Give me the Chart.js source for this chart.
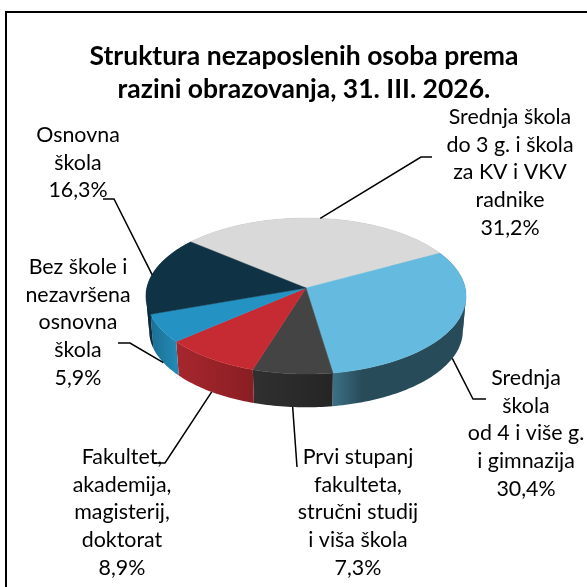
<!DOCTYPE html>
<html>
<head>
<meta charset="utf-8">
<style>
  html, body { margin: 0; padding: 0; background: #fff; overflow: hidden; }
  #chart { display: block; }
</style>
<script src="https://cdn.jsdelivr.net/npm/chart.js@4"></script>
</head>
<body>
<canvas id="chart" width="587" height="587"></canvas>
<script>
const titleLines = ['Struktura nezaposlenih osoba prema', 'razini obrazovanja, 31. III. 2026.'];

const categories = [
  ['Srednja škola', 'do 3 g. i škola', 'za KV i VKV', 'radnike'],
  ['Srednja', 'škola', 'od 4 i više g.', 'i gimnazija'],
  ['Prvi stupanj', 'fakulteta,', 'stručni studij', 'i viša škola'],
  ['Fakultet,', 'akademija,', 'magisterij,', 'doktorat'],
  ['Bez škole i', 'nezavršena', 'osnovna', 'škola'],
  ['Osnovna', 'škola'],
];
const shares = [31.2, 30.4, 7.3, 8.9, 5.9, 16.3];

const topColors = ['#d9d9d9', '#65bbdf', '#444444', '#c62b33', '#2492c2', '#0f3345'];
const wallColors = [
  ['#a0a0a0', '#a0a0a0'],
  ['#3c7086', '#284b5a'],
  ['#303030', '#252525'],
  ['#a6272d', '#8a1e23'],
  ['#1b6f95', '#2389b4'],
  ['#0a2230', '#0d2c3c'],
];

// label text centre + first line y, then the elbow points of its leader
const labelSpots = [
  { x: 510, y: 117, bend: [[421, 157], [432, 157]] },
  { x: 526, y: 378, bend: [[473, 399], [486, 399]] },
  { x: 358, y: 457, bend: [[297, 467]] },
  { x: 122, y: 457, bend: [[165, 463], [154, 463]] },
  { x: 78, y: 267, bend: [[130, 343], [118, 343]] },
  { x: 78, y: 135, bend: [[114, 199], [103, 199]] },
];

// the pie is seen in perspective, so the circle goes through a small homography
const pie = { cx: 306, cy: 288, a: 159.2, b: 77.2, k: 0.1026, depth: 35, shrink: 0.98 };

function rimPoint(angle, bottom) {
  const X = Math.cos(angle), Y = Math.sin(angle);
  const w = 1 - pie.k * Y;
  const s = bottom ? pie.shrink : 1;
  return [pie.cx + s * pie.a * X / w, pie.cy + (bottom ? pie.depth : 0) + s * pie.b * Y / w];
}

function rimAngles(arc) {
  const list = [];
  const steps = Math.max(2, Math.ceil((arc.endAngle - arc.startAngle) / 0.02));
  for (let i = 0; i <= steps; i++) {
    list.push(arc.startAngle + (arc.endAngle - arc.startAngle) * i / steps);
  }
  return list;
}

// cut the rim where it turns back in x, so each wall part is a simple polygon
function splitAtTurns(angles) {
  const parts = [[angles[0]]];
  let dir = 0;
  for (let n = 1; n < angles.length; n++) {
    const d = Math.sign(rimPoint(angles[n], false)[0] - rimPoint(angles[n - 1], false)[0]);
    if (dir && d && d !== dir) parts.push([angles[n - 1]]);
    if (d) dir = d;
    parts[parts.length - 1].push(angles[n]);
  }
  return parts;
}

const pie3d = {
  id: 'pie3d',
  beforeDraw(chart) {
    const ctx = chart.ctx;
    ctx.save();
    ctx.fillStyle = '#fff';
    ctx.fillRect(0, 0, chart.width, chart.height);
    ctx.strokeStyle = '#000';
    ctx.lineWidth = 2;
    ctx.strokeRect(6, 12, 700, 700);
    ctx.restore();
  },
  beforeDatasetsDraw(chart) {
    const ctx = chart.ctx;
    const arcs = chart.getDatasetMeta(0).data;
    ctx.save();
    // outer walls first, the top faces then cover whatever is at the back
    arcs.forEach((arc, i) => {
      const angles = rimAngles(arc);
      const front = angles.filter(a => Math.sin(a) > -0.1).map(a => rimPoint(a, false)[0]);
      const xs = front.length ? front : angles.map(a => rimPoint(a, false)[0]);
      const grad = ctx.createLinearGradient(Math.min(...xs), 0, Math.max(...xs), 0);
      grad.addColorStop(0, wallColors[i][0]);
      if (i === 1) grad.addColorStop(0.22, wallColors[i][1]);
      grad.addColorStop(1, wallColors[i][1]);
      ctx.fillStyle = grad;
      splitAtTurns(angles).forEach(part => {
        const top = part.map(a => rimPoint(a, false));
        const low = part.map(a => rimPoint(a, true)).reverse();
        ctx.beginPath();
        top.concat(low).forEach((p, n) => n ? ctx.lineTo(p[0], p[1]) : ctx.moveTo(p[0], p[1]));
        ctx.closePath();
        ctx.fill();
      });
    });
    arcs.forEach((arc, i) => {
      ctx.fillStyle = topColors[i];
      ctx.strokeStyle = topColors[i];
      ctx.lineWidth = 0.5;
      ctx.beginPath();
      ctx.moveTo(pie.cx, pie.cy);
      rimAngles(arc).forEach(a => {
        const p = rimPoint(a, false);
        ctx.lineTo(p[0], p[1]);
      });
      ctx.closePath();
      ctx.fill();
      ctx.stroke();
    });
    // leaders and labels
    ctx.strokeStyle = '#000';
    ctx.lineWidth = 1.5;
    ctx.fillStyle = '#000';
    ctx.font = '21.4px Lato';
    ctx.textAlign = 'center';
    ctx.textBaseline = 'middle';
    arcs.forEach((arc, i) => {
      const mid = (arc.startAngle + arc.endAngle) / 2;
      const start = rimPoint(mid, Math.sin(mid) > 0.2);
      const spot = labelSpots[i];
      ctx.beginPath();
      ctx.moveTo(start[0], start[1]);
      spot.bend.forEach(p => ctx.lineTo(p[0], p[1]));
      ctx.stroke();
      const lines = categories[i].concat(shares[i].toFixed(1).replace('.', ',') + '%');
      lines.forEach((line, n) => ctx.fillText(line, spot.x, spot.y + n * 27.8));
    });
    ctx.restore();
    return false;
  },
};

new Chart(document.getElementById('chart'), {
  type: 'pie',
  data: {
    labels: categories.map(c => c.join(' ')),
    datasets: [{ data: shares, backgroundColor: topColors, borderWidth: 0 }],
  },
  options: {
    responsive: false,
    animation: false,
    rotation: 309.5,
    layout: { padding: { left: 21, right: 0, top: 40, bottom: 10 } },
    plugins: {
      legend: { display: false },
      tooltip: { enabled: false },
      title: {
        display: true,
        text: titleLines,
        color: '#000',
        font: { family: 'Lato', size: 26.5, weight: 'bold', lineHeight: 1.25 },
        padding: 0,
      },
    },
  },
  plugins: [pie3d],
});
</script>
</body>
</html>
